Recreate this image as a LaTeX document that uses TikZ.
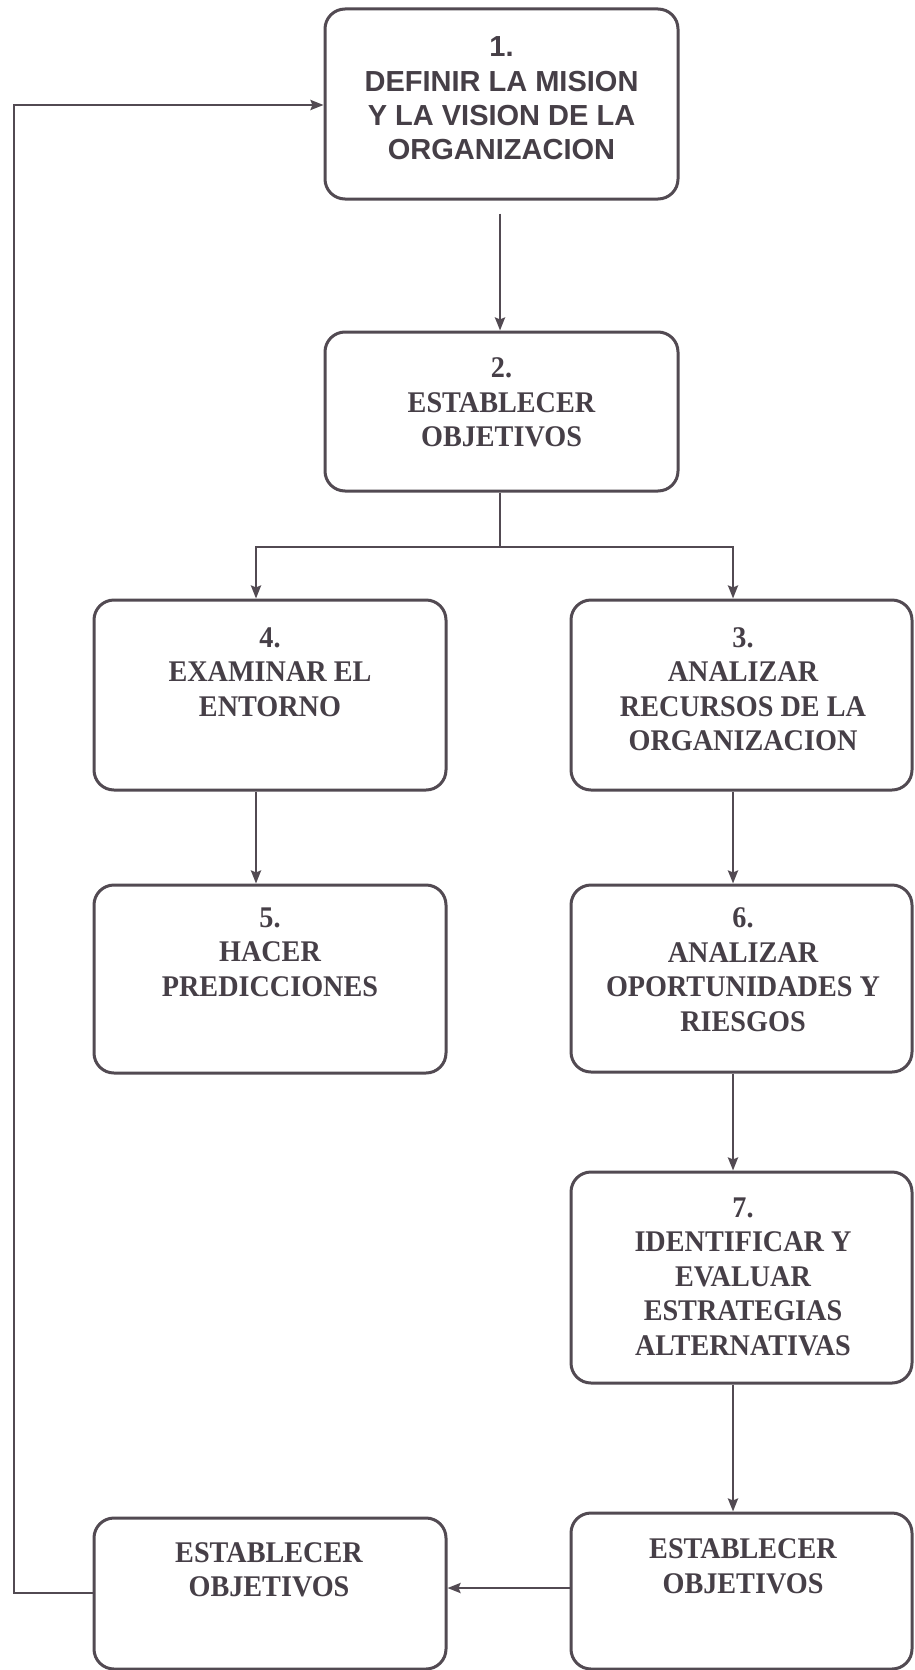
\documentclass[tikz,border=0pt]{standalone}
\usepackage{fontspec}
\usetikzlibrary{arrows.meta}
\newfontfamily\sansbf{Liberation Sans}
\newfontfamily\serifcb[FakeStretch=0.94]{Liberation Serif}
\definecolor{txt}{HTML}{463F47}
\definecolor{ln}{HTML}{524A52}
\tikzset{
  box/.style={draw=ln, line width=3pt, rounded corners=20pt, rectangle, inner sep=0pt},
  ttl/.style={text=txt, align=center, inner sep=0pt, font=\serifcb\bfseries\fontsize{30}{34.5}\selectfont},
  ttlsans/.style={text=txt, align=center, inner sep=0pt, font=\sansbf\bfseries\fontsize{29}{34.3}\selectfont},
  conn/.style={draw=ln, line width=2.6pt},
  arr/.style={conn, -{Stealth[length=13pt,width=10pt,inset=2pt]}}
}
\begin{document}
\begin{tikzpicture}[x=1pt,y=-1pt]
\useasboundingbox (0,0) rectangle (914,1670);
\fill[white] (0,0) rectangle (914,1670);
\clip (0,0) rectangle (914,1670);
% boxes: center, size
\node[box, minimum width=353pt, minimum height=190pt] (b1) at (501.5,104) {};
\node[box, minimum width=353pt, minimum height=159pt] (b2) at (501.5,411.5) {};
\node[box, minimum width=352pt, minimum height=190pt] (b4) at (270,695) {};
\node[box, minimum width=341pt, minimum height=190pt] (b3) at (741.5,695) {};
\node[box, minimum width=352pt, minimum height=188pt] (b5) at (270,979) {};
\node[box, minimum width=341pt, minimum height=187pt] (b6) at (741.5,978.5) {};
\node[box, minimum width=341pt, minimum height=211pt] (b7) at (741.5,1277.5) {};
\node[box, minimum width=341pt, minimum height=156pt] (b8r) at (741.5,1591) {};
\node[box, minimum width=352pt, minimum height=151pt] (b8l) at (270,1593.5) {};
% texts
\node[ttlsans] (t1) at (501.5,98.5) {1.\\DEFINIR LA MISION\\Y LA VISION DE LA\\ORGANIZACION};
\node[ttl] (t2) at (501.5,402.5) {2.\\ESTABLECER\\OBJETIVOS};
\node[ttl] (t4) at (270,672) {4.\\EXAMINAR EL\\ENTORNO};
\node[ttl] (t3) at (743,689) {3.\\ANALIZAR\\RECURSOS DE LA\\ORGANIZACION};
\node[ttl] (t5) at (270,952) {5.\\HACER\\PREDICCIONES};
\node[ttl] (t6) at (743,969.5) {6.\\ANALIZAR\\OPORTUNIDADES Y\\RIESGOS};
\node[ttl] (t7) at (743,1276.5) {7.\\IDENTIFICAR Y\\EVALUAR\\ESTRATEGIAS\\ALTERNATIVAS};
\node[ttl] (t8r) at (743,1566.5) {ESTABLECER\\OBJETIVOS};
\node[ttl] (t8l) at (269,1570) {ESTABLECER\\OBJETIVOS};
% helper coordinates
\coordinate (split) at (500,547);
\coordinate (bl) at (256,547);
\coordinate (br) at (733,547);
\coordinate (hy) at (0,1588);
\coordinate (fb) at (14,1593);
\coordinate (ft) at (14,105);
% connectors
\draw[arr, shorten <=13pt] (b1.south -| split) -- (b2.north -| split);
\draw[conn] (b2.south -| split) -- (split);
\draw[conn, line cap=rect] (bl) -- (br);
\draw[arr] (bl) -- (b4.north -| bl);
\draw[arr] (br) -- (b3.north -| br);
\draw[arr] (b4.south -| bl) -- (b5.north -| bl);
\draw[arr] (b3.south -| br) -- (b6.north -| br);
\draw[arr] (b6.south -| br) -- (b7.north -| br);
\draw[arr] (b7.south -| br) -- (b8r.north -| br);
\draw[arr] (b8r.west |- hy) -- (b8l.east |- hy);
\draw[arr, line join=miter] (b8l.west |- fb) -- (fb) -- (ft) -- (b1.west |- ft);
\end{tikzpicture}
\end{document}
